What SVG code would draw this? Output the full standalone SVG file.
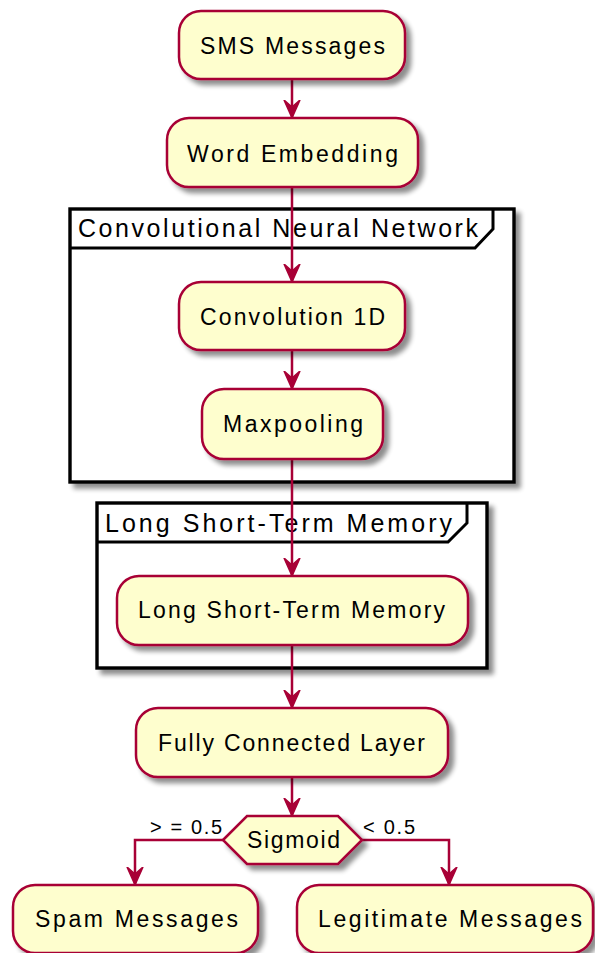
<svg xmlns="http://www.w3.org/2000/svg" width="595" height="953" viewBox="0 0 595 953">
  <defs>
    <filter id="shadow" x="-10%" y="-10%" width="130%" height="140%">
      <feGaussianBlur in="SourceAlpha" stdDeviation="2.5"/>
      <feOffset dx="5" dy="5" result="b"/>
      <feComponentTransfer><feFuncA type="linear" slope="0.45"/></feComponentTransfer>
      <feMerge><feMergeNode/><feMergeNode in="SourceGraphic"/></feMerge>
    </filter>
    <!-- arrowhead drawn along +x so orient="auto" follows the line direction -->
    <marker id="arrow" viewBox="0 0 20 18" refX="18" refY="9" markerWidth="20" markerHeight="18" markerUnits="userSpaceOnUse" orient="auto">
      <polygon points="0,1 18,9 0,17 7,9" fill="#A80036" stroke="#A80036" stroke-width="1.5" stroke-linejoin="miter"/>
    </marker>
  </defs>
  <style>
    .act { fill: #FEFECE; stroke: #A80036; stroke-width: 2.5; filter: url(#shadow); }
    .frame { fill: #FFFFFF; stroke: #000000; stroke-width: 3.4; filter: url(#shadow); }
    .tab { fill: none; stroke: #000000; stroke-width: 3; }
    .lbl { font-family: "Liberation Sans", Arial, sans-serif; font-size: 23px; fill: #000000; }
    .ttl { font-family: "Liberation Sans", Arial, sans-serif; font-size: 25px; fill: #000000; }
    .cond { font-family: "Liberation Sans", Arial, sans-serif; font-size: 20px; fill: #000000; }
    .edge { fill: none; stroke: #A80036; stroke-width: 2.5; marker-end: url(#arrow); }
  </style>
  <rect width="595" height="953" fill="#FFFFFF"/>

  <!-- partition frames -->
  <g id="frame-cnn">
    <rect class="frame" x="70" y="209" width="444" height="273"/>
    <path class="tab" d="M70,248 L475,248 L493,229 L493,209"/>
    <text class="ttl" x="78" y="237" textLength="400" lengthAdjust="spacing">Convolutional Neural Network</text>
  </g>
  <g id="frame-lstm">
    <rect class="frame" x="97" y="503" width="390" height="165"/>
    <path class="tab" d="M97,542 L448,542 L467,523 L467,503"/>
    <text class="ttl" x="105" y="532" textLength="347" lengthAdjust="spacing">Long Short-Term Memory</text>
  </g>

  <!-- connectors -->
  <g id="connectors">
    <path class="edge" d="M292,79 L292,118"/>
    <path class="edge" d="M292,187 L292,282"/>
    <path class="edge" d="M292,350 L292,389"/>
    <path class="edge" d="M292,459 L292,576"/>
    <path class="edge" d="M292,645 L292,708"/>
    <path class="edge" d="M292,777 L292,816"/>
    <path class="edge" d="M223,840 L135,840 L135,885"/>
    <path class="edge" d="M362,840 L449,840 L449,885"/>
    <text class="cond" x="150" y="834" textLength="72" lengthAdjust="spacing">&gt; = 0.5</text>
    <text class="cond" x="363" y="834" textLength="52" lengthAdjust="spacing">&lt; 0.5</text>
  </g>

  <!-- activities -->
  <g id="sms-messages">
    <rect class="act" x="179" y="11" width="226" height="68" rx="22" ry="22"/>
    <text class="lbl" x="200" y="54" textLength="185" lengthAdjust="spacing">SMS Messages</text>
  </g>
  <g id="word-embedding">
    <rect class="act" x="167" y="118" width="251" height="69" rx="22" ry="22"/>
    <text class="lbl" x="187" y="162" textLength="211" lengthAdjust="spacing">Word Embedding</text>
  </g>
  <g id="convolution-1d">
    <rect class="act" x="179" y="282" width="226" height="68" rx="22" ry="22"/>
    <text class="lbl" x="200" y="325" textLength="185" lengthAdjust="spacing">Convolution 1D</text>
  </g>
  <g id="maxpooling">
    <rect class="act" x="202" y="389" width="181" height="70" rx="22" ry="22"/>
    <text class="lbl" x="223" y="432" textLength="140" lengthAdjust="spacing">Maxpooling</text>
  </g>
  <g id="lstm">
    <rect class="act" x="117" y="576" width="351" height="69" rx="22" ry="22"/>
    <text class="lbl" x="138" y="618" textLength="307" lengthAdjust="spacing">Long Short-Term Memory</text>
  </g>
  <g id="fully-connected">
    <rect class="act" x="136" y="708" width="312" height="69" rx="22" ry="22"/>
    <text class="lbl" x="158" y="751" textLength="267" lengthAdjust="spacing">Fully Connected Layer</text>
  </g>
  <g id="sigmoid">
    <polygon class="act" points="223,840 247,816 338,816 362,840 338,864 247,864"/>
    <text class="lbl" x="247" y="848" textLength="93" lengthAdjust="spacing">Sigmoid</text>
  </g>
  <g id="spam-messages">
    <rect class="act" x="13" y="885" width="245" height="68" rx="22" ry="22"/>
    <text class="lbl" x="35" y="927" textLength="203" lengthAdjust="spacing">Spam Messages</text>
  </g>
  <g id="legitimate-messages">
    <rect class="act" x="297" y="885" width="296" height="68" rx="22" ry="22"/>
    <text class="lbl" x="318" y="927" textLength="264" lengthAdjust="spacing">Legitimate Messages</text>
  </g>
</svg>
